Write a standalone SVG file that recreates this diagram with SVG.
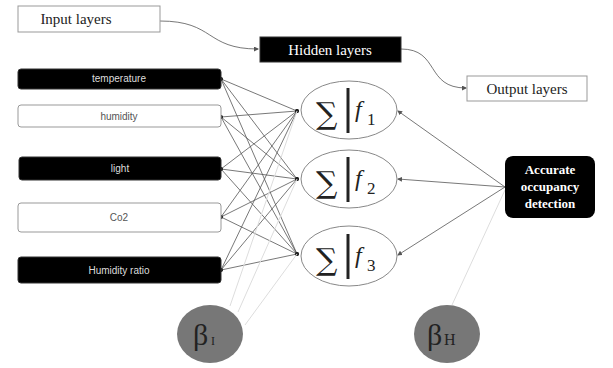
<svg xmlns="http://www.w3.org/2000/svg" width="613" height="368" viewBox="0 0 613 368">
<style>
.lbl{font-family:"Liberation Serif",serif;font-size:15px;fill:#222;text-anchor:middle}
.wbox{fill:#fff;stroke:#999;stroke-width:1}
.bbox{fill:#000;stroke:#333;stroke-width:1}
.in-b{font-family:"Liberation Sans",sans-serif;font-size:10px;fill:#ddd;text-anchor:middle}
.in-w{font-family:"Liberation Sans",sans-serif;font-size:10px;fill:#555;text-anchor:middle}
.conn{stroke:#555;stroke-width:0.8;fill:none}
.faint{stroke:#ddd;stroke-width:1;fill:none}
.neuron{fill:#fff;stroke:#888;stroke-width:1}
.sum{font-family:"DejaVu Serif",serif;font-size:30px;fill:#222}
.f{font-family:"Liberation Serif",serif;font-style:italic;font-size:24px;fill:#222}
.sub{font-family:"Liberation Serif",serif;font-size:17px;fill:#222}
.beta{fill:#777}
.bt{font-family:"Liberation Serif",serif;font-size:30px;fill:#222}
</style>
<defs>
<marker id="dot" markerWidth="4" markerHeight="4" refX="2" refY="2" markerUnits="userSpaceOnUse"><circle cx="2" cy="2" r="1.8" fill="#222"/></marker>
<marker id="arr" markerWidth="5" markerHeight="5" refX="4" refY="2.5" orient="auto" markerUnits="userSpaceOnUse"><path d="M0,0 L5,2.5 L0,5 z" fill="#555"/></marker>
</defs>
<rect width="613" height="368" fill="#fff"/>

<g id="connectors">
<path class="conn" d="M160,21 C215,21 205,49 258,49" marker-end="url(#arr)"/>
<path class="conn" d="M401,49 C440,49 425,88 466,88" marker-end="url(#arr)"/>
<g marker-start="url(#dot)" marker-end="url(#dot)">
<line class="conn" x1="221" y1="79" x2="297" y2="111"/>
<line class="conn" x1="221" y1="79" x2="297" y2="179"/>
<line class="conn" x1="221" y1="79" x2="297" y2="254"/>
<line class="conn" x1="221" y1="117" x2="297" y2="111"/>
<line class="conn" x1="221" y1="117" x2="297" y2="179"/>
<line class="conn" x1="221" y1="117" x2="297" y2="254"/>
<line class="conn" x1="221" y1="169" x2="297" y2="111"/>
<line class="conn" x1="221" y1="169" x2="297" y2="179"/>
<line class="conn" x1="221" y1="169" x2="297" y2="254"/>
<line class="conn" x1="221" y1="217" x2="297" y2="111"/>
<line class="conn" x1="221" y1="217" x2="297" y2="179"/>
<line class="conn" x1="221" y1="217" x2="297" y2="254"/>
<line class="conn" x1="221" y1="270" x2="297" y2="111"/>
<line class="conn" x1="221" y1="270" x2="297" y2="179"/>
<line class="conn" x1="221" y1="270" x2="297" y2="254"/>
</g>
<line class="conn" x1="505" y1="187" x2="398" y2="111" marker-end="url(#arr)"/>
<line class="conn" x1="505" y1="187" x2="398" y2="179" marker-end="url(#arr)"/>
<line class="conn" x1="505" y1="187" x2="398" y2="255" marker-end="url(#arr)"/>
<line class="faint" x1="245" y1="325" x2="297" y2="254"/>
<line class="faint" x1="238" y1="312" x2="297" y2="179"/>
<line class="faint" x1="230" y1="306" x2="297" y2="111"/>
<line class="faint" x1="452" y1="305" x2="505" y2="190"/>
</g>

<g id="input-layers"><rect class="wbox" x="18" y="6" width="142" height="26"/><text class="lbl" x="76" y="24">Input layers</text></g>
<g id="hidden-layers"><rect class="bbox" x="260" y="37" width="141" height="25"/><text class="lbl" x="330" y="55" style="fill:#fff">Hidden layers</text></g>
<g id="output-layers"><rect class="wbox" x="467" y="76" width="120" height="25"/><text class="lbl" x="527" y="94">Output layers</text></g>

<g id="temperature"><rect class="bbox" x="18" y="69" width="203" height="20" rx="3"/><text class="in-b" x="119" y="82">temperature</text></g>
<g id="humidity"><rect class="wbox" x="18" y="105" width="203" height="22" rx="3"/><text class="in-w" x="119" y="120">humidity</text></g>
<g id="light"><rect class="bbox" x="19" y="157" width="202" height="23" rx="3"/><text class="in-b" x="120" y="172">light</text></g>
<g id="co2"><rect class="wbox" x="18" y="203" width="203" height="29" rx="3"/><text class="in-w" x="119" y="221">Co2</text></g>
<g id="humidity-ratio"><rect class="bbox" x="18" y="257" width="203" height="26" rx="3"/><text class="in-b" x="119" y="274">Humidity ratio</text></g>

<g id="neuron1"><ellipse class="neuron" cx="349" cy="110" rx="48" ry="29"/><text class="sum" x="316" y="124">∑</text><line x1="348" y1="88" x2="348" y2="133" stroke="#222" stroke-width="3"/><text class="f" x="355" y="117">f</text><text class="sub" x="367" y="125">1</text></g>
<g id="neuron2"><ellipse class="neuron" cx="349" cy="179" rx="48" ry="29"/><text class="sum" x="316" y="193">∑</text><line x1="348" y1="157" x2="348" y2="202" stroke="#222" stroke-width="3"/><text class="f" x="355" y="186">f</text><text class="sub" x="367" y="194">2</text></g>
<g id="neuron3"><ellipse class="neuron" cx="349" cy="256" rx="48" ry="30"/><text class="sum" x="316" y="270">∑</text><line x1="348" y1="234" x2="348" y2="279" stroke="#222" stroke-width="3"/><text class="f" x="355" y="263">f</text><text class="sub" x="367" y="271">3</text></g>

<g id="output"><rect x="505" y="156" width="90" height="62" rx="8" fill="#000"/>
<text x="550" y="174" style="font-family:'Liberation Serif',serif;font-weight:bold;font-size:13px;fill:#fff;text-anchor:middle">Accurate</text>
<text x="550" y="191" style="font-family:'Liberation Serif',serif;font-weight:bold;font-size:13px;fill:#fff;text-anchor:middle">occupancy</text>
<text x="550" y="208" style="font-family:'Liberation Serif',serif;font-weight:bold;font-size:13px;fill:#fff;text-anchor:middle">detection</text></g>

<g id="beta-i"><ellipse class="beta" cx="210" cy="334" rx="33" ry="29"/><text class="bt" x="193" y="345">β</text><text x="211" y="345" style="font-family:'Liberation Serif',serif;font-size:12px;fill:#222">I</text></g>
<g id="beta-h"><ellipse class="beta" cx="447" cy="334" rx="33" ry="29"/><text class="bt" x="427" y="345">β</text><text x="444" y="345" style="font-family:'Liberation Serif',serif;font-size:16px;fill:#222">H</text></g>
</svg>
